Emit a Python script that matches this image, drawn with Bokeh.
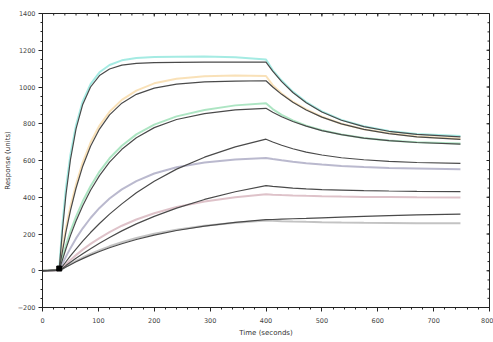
from bokeh.plotting import figure
from bokeh.models import Range1d, FixedTicker
from bokeh.embed import file_html
from bokeh.resources import INLINE

# ---- data ----
time_s = [0, 25, 30, 36, 42, 50, 60, 72, 86, 102, 120, 142, 168, 200, 240, 290, 345, 400,
          412, 428, 448, 472, 500, 535, 575, 620, 670, 748]

fit_c1 = [0, 4, 12, 231, 415, 604, 772, 905, 1000, 1062, 1098, 1119, 1129, 1133, 1134, 1135, 1135, 1135,
          1086, 1029, 970, 914, 864, 819, 784, 759, 742, 729]
data_c1 = [0, 5, 15, 262, 452, 632, 792, 922, 1016, 1080, 1120, 1145, 1158, 1163, 1165, 1166, 1162, 1150,
           1092, 1035, 975, 918, 867, 821, 786, 760, 744, 733]
fit_c2 = [0, 4, 10, 111, 211, 327, 449, 569, 678, 771, 848, 912, 960, 994, 1016, 1028, 1032, 1034,
          1000, 960, 917, 875, 836, 799, 769, 746, 729, 715]
data_c2 = [0, 5, 12, 130, 235, 350, 470, 590, 698, 790, 865, 930, 980, 1020, 1045, 1058, 1062, 1060,
           1010, 965, 920, 878, 838, 800, 770, 748, 731, 718]
fit_c3 = [0, 3, 8, 62, 120, 191, 271, 354, 438, 518, 591, 661, 724, 779, 823, 855, 875, 884,
          863, 838, 812, 787, 763, 741, 722, 708, 698, 689]
data_c3 = [0, 4, 10, 75, 140, 215, 295, 378, 460, 540, 612, 680, 742, 795, 840, 875, 900, 912,
           880, 848, 818, 790, 765, 742, 723, 709, 699, 692]
fit_c4 = [0, 2, 5, 25, 49, 81, 118, 161, 208, 257, 308, 364, 424, 487, 553, 618, 674, 716,
          701, 683, 664, 646, 630, 615, 604, 595, 589, 584]
data_c4 = [0, 3, 8, 40, 77, 123, 176, 231, 287, 342, 393, 443, 488, 529, 563, 589, 605, 614,
           608, 601, 593, 585, 578, 570, 564, 559, 556, 552]
fit_c5 = [0, 2, 5, 14, 28, 46, 68, 93, 120, 150, 181, 217, 255, 296, 341, 388, 430, 463,
          459, 455, 450, 446, 442, 439, 436, 434, 432, 431]
data_c5 = [0, 2, 6, 19, 36, 59, 85, 115, 146, 178, 210, 245, 279, 313, 347, 377, 400, 416,
           414, 412, 410, 408, 406, 404, 402, 401, 400, 399]
fit_c6 = [0, 2, 5, 10, 20, 33, 49, 66, 85, 105, 125, 147, 170, 194, 219, 243, 263, 278,
          279, 281, 283, 285, 288, 292, 296, 300, 304, 308]
data_c6 = [0, 2, 5, 11, 22, 37, 53, 72, 92, 112, 133, 155, 178, 201, 223, 245, 261, 273,
           272, 270, 268, 266, 264, 262, 261, 260, 259, 258]

inject_t = [30]
inject_r = [12]

x_ticks = [0, 100, 200, 300, 400, 500, 600, 700, 800]
y_ticks = [-200, 0, 200, 400, 600, 800, 1000, 1200, 1400]
x_minor = list(range(0, 801, 20))
y_minor = list(range(-200, 1401, 50))

data_series = [data_c1, data_c2, data_c3, data_c4, data_c5, data_c6]
data_colors = ["#8ee6dc", "#f7d9a6", "#98dfb4", "#a9a8c2", "#d6b3bc", "#b4b4b4"]
fit_series = [fit_c1, fit_c2, fit_c3, fit_c4, fit_c5, fit_c6]

X0, X1, Y0, Y1 = 0, 800, -200, 1400
p = figure(width=493, height=342, x_range=Range1d(X0, X1), y_range=Range1d(Y0, Y1),
           output_backend="svg", toolbar_location=None,
           min_border_left=42, min_border_right=4, min_border_top=13, min_border_bottom=35)
p.background_fill_color = "white"
p.border_fill_color = "white"
p.xgrid.visible = False
p.ygrid.visible = False
p.outline_line_color = "#222222"
p.outline_line_width = 1

for ax, ticks, minor in ((p.xaxis[0], x_ticks, x_minor), (p.yaxis[0], y_ticks, y_minor)):
    ax.ticker = FixedTicker(ticks=ticks, minor_ticks=minor)
    ax.major_label_text_font_size = "6.5px"
    ax.major_label_text_color = "#444444"
    ax.major_label_text_font = "DejaVu Sans"
    ax.axis_label_text_font_size = "7px"
    ax.axis_label_text_font_style = "normal"
    ax.axis_label_text_color = "#333333"
    ax.axis_label_text_font = "DejaVu Sans"
    ax.axis_line_color = "#222222"
    ax.major_tick_line_color = "#222222"
    ax.minor_tick_line_color = "#222222"
    ax.major_tick_out = 4
    ax.major_tick_in = 0
    ax.minor_tick_out = 2
    ax.minor_tick_in = 0

p.xaxis.major_label_standoff = 6
p.xaxis.axis_label_standoff = 3
p.yaxis.major_label_standoff = 3
p.yaxis.axis_label_standoff = 3

p.xaxis.axis_label = "Time (seconds)"
p.yaxis.axis_label = "Response (units)"

# inward tick marks along the top and right frame edges
frame_w_px, frame_h_px = 447, 294
dy_major = (Y1 - Y0) / frame_h_px * 3
dy_minor = (Y1 - Y0) / frame_h_px * 2
dx_major = (X1 - X0) / frame_w_px * 3
dx_minor = (X1 - X0) / frame_w_px * 2
p.segment(x0=x_minor, y0=[Y1] * len(x_minor), x1=x_minor, y1=[Y1 - dy_minor] * len(x_minor),
          line_color="#222222", line_width=1)
p.segment(x0=x_ticks, y0=[Y1] * len(x_ticks), x1=x_ticks, y1=[Y1 - dy_major] * len(x_ticks),
          line_color="#222222", line_width=1)
p.segment(x0=[X1] * len(y_minor), y0=y_minor, x1=[X1 - dx_minor] * len(y_minor), y1=y_minor,
          line_color="#222222", line_width=1)
p.segment(x0=[X1] * len(y_ticks), y0=y_ticks, x1=[X1 - dx_major] * len(y_ticks), y1=y_ticks,
          line_color="#222222", line_width=1)

for ys, c in zip(data_series, data_colors):
    p.line(time_s, ys, line_color=c, line_width=2.0, line_alpha=0.8)

for ys in fit_series:
    p.line(time_s, ys, line_color="#4a4a4a", line_width=1.2)

p.scatter(inject_t, inject_r, marker="square", size=5, color="black")

open("out.html", "w").write(file_html(p, INLINE))
